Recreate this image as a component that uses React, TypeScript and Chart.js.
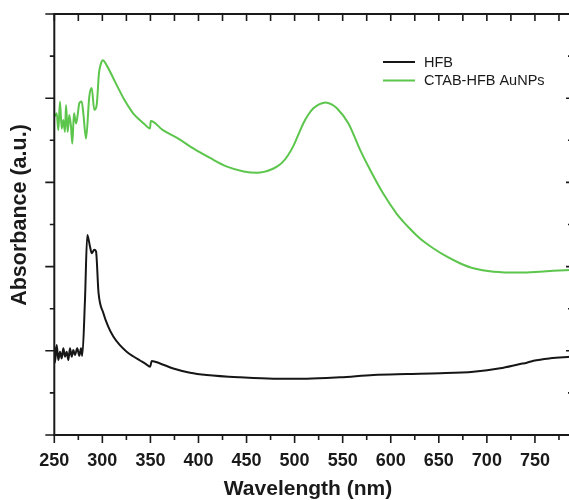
import React, { useEffect, useRef } from "react";
import { Chart, registerables } from "chart.js";

Chart.register(...registerables);

// ---- data ----
const seriesLabels = ["HFB", "CTAB-HFB AuNPs"];
const seriesColors = ["#161616", "#5cc64c"];

const hfbWavelength = [
  250, 250.7, 252.5, 254.2, 255.9, 257.7, 259.4, 261.1, 262.9, 264.6, 266.3, 268.1, 269.8, 271.5,
  273.9, 276, 277.8, 279.1, 281.9, 284.3, 287.1, 288.9, 291.6, 293.4, 296, 301, 306, 311.4, 318, 325.3,
  332, 339.2, 345, 349.6, 351.4, 360, 373.8, 391.2, 408.6, 443.2, 477.9, 512.6, 547.3, 582, 616.7, 651.4,
  686, 713.8, 734.6, 741.6, 748.5, 765.9, 787,
];
const hfbAbsorbance = [
  1.05, 0.86, 1.07, 0.89, 0.99, 0.91, 1.03, 0.93, 0.99, 0.89, 1.03, 0.93, 1.01, 0.95,
  1.03, 0.94, 1.03, 0.94, 1.6, 2.375, 2.24, 2.16, 2.2, 2.18, 1.69, 1.45, 1.29, 1.17, 1.07, 0.99,
  0.935, 0.885, 0.845, 0.81, 0.88, 0.85, 0.79, 0.74, 0.713, 0.685, 0.669, 0.669, 0.685, 0.713, 0.724, 0.733,
  0.752, 0.792, 0.843, 0.859, 0.882, 0.911, 0.93,
];

const ctabWavelength = [
  250, 252.5, 254.2, 255.9, 257.7, 259.4, 261.1, 262.2, 263.9, 265.6, 267.4, 268.7, 270.5, 272.6,
  274.3, 276, 278.5, 280.2, 283, 286.4, 288.9, 291.6, 294.1, 296.5, 298.5, 300.5, 304.5, 313, 322,
  327, 332, 337.5, 343, 349.6, 350.3, 363, 379, 395, 412, 429, 447, 461, 468, 475, 481, 487, 493,
  499, 504, 509, 514, 519.5, 526, 532, 538, 544, 556, 568, 578.5, 592, 606, 613, 620, 627, 634,
  644.5, 658, 672, 686, 707, 735, 755, 769, 787,
];
const ctabAbsorbance = [
  3.78, 3.82, 3.62, 3.96, 3.64, 3.74, 3.6, 3.92, 3.6, 3.8, 3.66, 3.46, 3.82, 3.7,
  3.8, 3.94, 3.96, 3.82, 3.52, 4.02, 4.12, 3.86, 3.92, 4.3, 4.41, 4.45, 4.39, 4.2, 4.0,
  3.905, 3.82, 3.755, 3.7, 3.64, 3.73, 3.62, 3.52, 3.4, 3.29, 3.19, 3.13, 3.115, 3.125, 3.15, 3.185, 3.235, 3.32,
  3.44, 3.57, 3.7, 3.8, 3.88, 3.93, 3.95, 3.93, 3.88, 3.7, 3.39, 3.15, 2.87, 2.63, 2.535, 2.45, 2.37, 2.3,
  2.215, 2.12, 2.04, 1.98, 1.94, 1.93, 1.94, 1.95, 1.96,
];

const xTickLabels = [250, 300, 350, 400, 450, 500, 550, 600, 650, 700, 750];
const xRange = [250, 787];
const yRange = [0, 5];
const xMinorStep = 25;
const yMinorStep = 0.5;
const xTitle = "Wavelength (nm)";
const yTitle = "Absorbance (a.u.)";

const FONT = "'Liberation Sans', Arial, Helvetica, sans-serif";
const INK = "#1a1a1a";

const decorPlugin = {
  id: "decor",
  afterDraw(chart: any) {
    const { ctx, chartArea } = chart;
    const { left, right, top, bottom } = chartArea;
    const xs = chart.scales.x;
    const ys = chart.scales.y;
    ctx.save();
    // frame
    ctx.strokeStyle = INK;
    ctx.lineWidth = 2;
    ctx.beginPath();
    ctx.moveTo(left, top);
    ctx.lineTo(right, top);
    ctx.lineTo(right, bottom);
    ctx.lineTo(left, bottom);
    ctx.closePath();
    ctx.stroke();
    // ticks
    ctx.lineWidth = 1.6;
    ctx.beginPath();
    for (let v = xRange[0]; v <= xRange[1]; v += xMinorStep) {
      const px = xs.getPixelForValue(v);
      const major = xTickLabels.includes(v);
      ctx.moveTo(px, bottom);
      ctx.lineTo(px, bottom + (major ? 8 : 5));
      ctx.moveTo(px, top);
      ctx.lineTo(px, top + 7);
    }
    for (let v = yRange[0]; v <= yRange[1] + 1e-9; v += yMinorStep) {
      const py = ys.getPixelForValue(v);
      const major = Math.abs(v - Math.round(v)) < 1e-9;
      ctx.moveTo(left, py);
      ctx.lineTo(left - (major ? 9 : 4.5), py);
      ctx.moveTo(right, py);
      ctx.lineTo(right - (major ? 4.5 : 2.5), py);
    }
    ctx.stroke();
    // axis titles
    ctx.fillStyle = INK;
    ctx.textAlign = "center";
    ctx.textBaseline = "middle";
    ctx.font = `bold 21px ${FONT}`;
    ctx.fillText(xTitle, 308, 489);
    ctx.save();
    ctx.translate(20, 215);
    ctx.rotate(-Math.PI / 2);
    ctx.font = `bold 21.5px ${FONT}`;
    ctx.fillText(yTitle, 0, 0);
    ctx.restore();
    // legend
    ctx.font = `14.5px ${FONT}`;
    ctx.textAlign = "left";
    chart.data.datasets.forEach((ds: any, i: number) => {
      const ly = 62 + i * 18.5;
      ctx.strokeStyle = ds.borderColor;
      ctx.lineWidth = 2;
      ctx.beginPath();
      ctx.moveTo(383, ly);
      ctx.lineTo(415, ly);
      ctx.stroke();
      ctx.fillStyle = INK;
      ctx.fillText(ds.label, 424, ly + 0.5);
    });
    ctx.restore();
  },
};

export default function App() {
  const ref = useRef<HTMLCanvasElement | null>(null);
  useEffect(() => {
    if (!ref.current) return;
    const chart = new Chart(ref.current, {
      type: "line",
      data: {
        datasets: [
          {
            label: seriesLabels[0],
            data: hfbWavelength.map((x, i) => ({ x, y: hfbAbsorbance[i] })),
            borderColor: seriesColors[0],
            borderWidth: 2,
            pointRadius: 0,
            cubicInterpolationMode: "monotone",
          },
          {
            label: seriesLabels[1],
            data: ctabWavelength.map((x, i) => ({ x, y: ctabAbsorbance[i] })),
            borderColor: seriesColors[1],
            borderWidth: 2,
            pointRadius: 0,
            cubicInterpolationMode: "monotone",
          },
        ],
      },
      options: {
        animation: false,
        responsive: false,
        devicePixelRatio: 1,
        layout: { padding: { left: 0, top: 14, right: 1.5, bottom: 0 } },
        plugins: { legend: { display: false }, tooltip: { enabled: false } },
        scales: {
          x: {
            type: "linear",
            min: xRange[0],
            max: xRange[1],
            border: { display: false },
            grid: { display: false, drawTicks: false },
            ticks: {
              stepSize: 50,
              includeBounds: false,
              autoSkip: false,
              maxRotation: 0,
              padding: 15,
              color: INK,
              font: { family: FONT, size: 18, weight: "bold" },
              callback: (v: any) => (xTickLabels.includes(Number(v)) ? String(v) : ""),
            },
            afterFit: (s: any) => {
              s.height = 65;
            },
          },
          y: {
            type: "linear",
            min: yRange[0],
            max: yRange[1],
            border: { display: false },
            grid: { display: false, drawTicks: false },
            ticks: { display: false },
            afterFit: (s: any) => {
              s.width = 54.3;
            },
          },
        },
      },
      plugins: [decorPlugin],
    } as any);
    return () => chart.destroy();
  }, []);
  return (
    <div
      style={{
        position: "fixed",
        left: 0,
        top: 0,
        width: 569,
        height: 500,
        overflow: "hidden",
        background: "#fff",
      }}
    >
      <canvas ref={ref} width={572} height={500} style={{ width: 572, height: 500, display: "block" }} />
    </div>
  );
}
